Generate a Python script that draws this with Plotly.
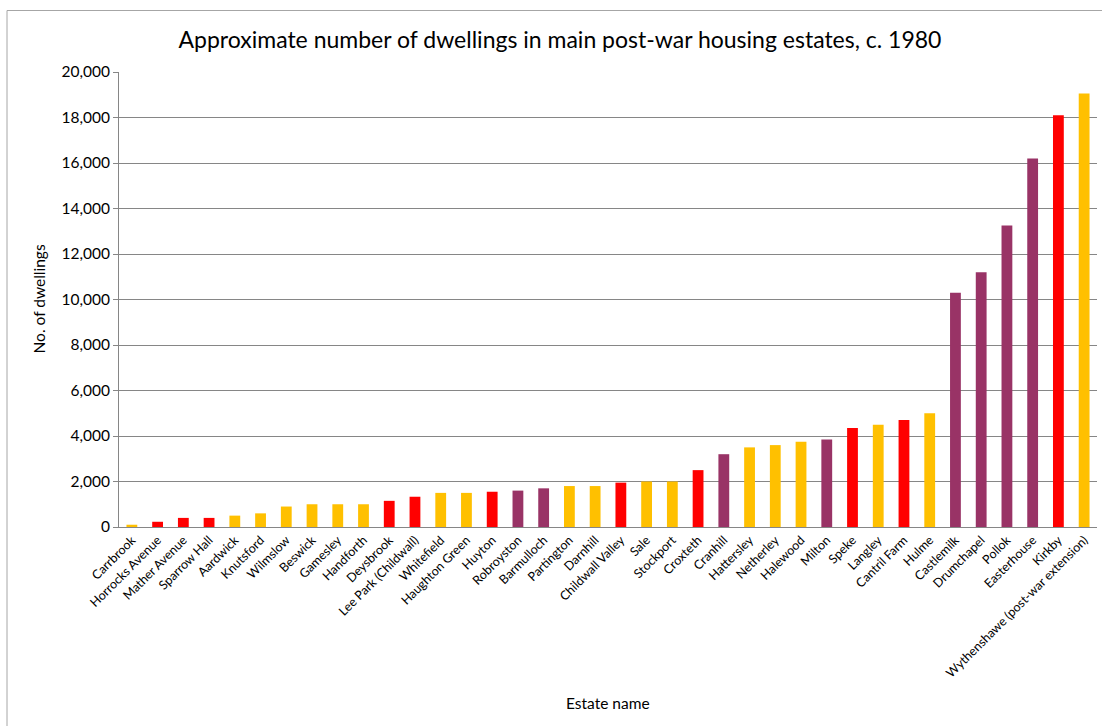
import plotly.graph_objects as go

estates = ["Carrbrook", "Horrocks Avenue", "Mather Avenue", "Sparrow Hall", "Aardwick", "Knutsford",
           "Wilmslow", "Beswick", "Gamesley", "Handforth", "Deysbrook", "Lee Park (Childwall)",
           "Whitefield", "Haughton Green", "Huyton", "Robroyston", "Barmulloch", "Partington",
           "Darnhill", "Childwall Valley", "Sale", "Stockport", "Croxteth", "Cranhill", "Hattersley",
           "Netherley", "Halewood", "Milton", "Speke", "Langley", "Cantril Farm", "Hulme",
           "Castlemilk", "Drumchapel", "Pollok", "Easterhouse", "Kirkby",
           "Wythenshawe (post-war extension)"]
dwellings = [100, 230, 400, 400, 500, 600, 900, 1000, 1000, 1000, 1150, 1330, 1500, 1500, 1550,
             1600, 1700, 1800, 1800, 1950, 2000, 2000, 2500, 3200, 3500, 3600, 3750, 3850, 4350,
             4500, 4700, 5000, 10300, 11200, 13250, 16200, 18100, 19050]
city = ["Manchester", "Liverpool", "Liverpool", "Liverpool", "Manchester", "Manchester",
        "Manchester", "Manchester", "Manchester", "Manchester", "Liverpool", "Liverpool",
        "Manchester", "Manchester", "Liverpool", "Glasgow", "Glasgow", "Manchester",
        "Manchester", "Liverpool", "Manchester", "Manchester", "Liverpool", "Glasgow", "Manchester",
        "Manchester", "Manchester", "Glasgow", "Liverpool", "Manchester", "Liverpool", "Manchester",
        "Glasgow", "Glasgow", "Glasgow", "Glasgow", "Liverpool", "Manchester"]
city_colors = {"Manchester": "#FFC000", "Liverpool": "#FF0000", "Glasgow": "#993366"}
y_ticks = list(range(0, 20001, 2000))

W, H = 1102, 726
L, R, T, B = 119, 5, 72, 199
pw, ph = W - L - R, H - T - B

fig = go.Figure(go.Bar(
    x=estates, y=dwellings,
    marker=dict(color=[city_colors[c] for c in city], line=dict(width=0)),
    width=0.42, showlegend=False,
))

font = "Lato, 'Open Sans', sans-serif"
fig.update_layout(
    width=W, height=H,
    margin=dict(l=L, r=R, t=T, b=B, autoexpand=False),
    paper_bgcolor="white", plot_bgcolor="white",
    font=dict(family=font, color="#000000"),
    title=dict(text="Approximate number of dwellings in main post-war housing estates, c. 1980",
               x=560 / W, xref="container", xanchor="center",
               y=1 - 40 / H, yref="container", yanchor="middle",
               font=dict(size=23, family=font, color="#000000")),
)
fig.update_xaxes(
    tickangle=-45, tickfont=dict(size=12.5),
    showline=True, linecolor="#868686", linewidth=1,
    ticks="", showgrid=False, automargin=False,
)
fig.update_yaxes(
    range=[0, 20000], tickvals=y_ticks, tickformat=",d",
    tickfont=dict(size=15.5),
    showline=True, linecolor="#868686", linewidth=1,
    ticks="outside", ticklen=5, tickcolor="#868686",
    showgrid=True, gridcolor="#868686", gridwidth=1,
    zeroline=False, automargin=False,
)
# chart-area border (Excel-style frame)
fig.add_shape(type="rect", xref="paper", yref="paper",
              x0=(7 - L) / pw, x1=(W + 5 - L) / pw,
              y0=1 - (H + 5 - T) / ph, y1=1 - (10.5 - T) / ph,
              line=dict(color="#A6A6A6", width=1), fillcolor="rgba(0,0,0,0)", layer="below")
fig.add_annotation(text="Estate name", xref="paper", yref="paper",
                   x=0.5, y=1 - (703 - T) / ph, showarrow=False,
                   font=dict(size=15.5, family=font), yanchor="middle", xanchor="center")
fig.add_annotation(text="No. of dwellings", xref="paper", yref="paper",
                   x=(38 - L) / pw, y=0.5, showarrow=False, textangle=-90,
                   font=dict(size=15.5, family=font), yanchor="middle", xanchor="center")
fig.write_html("out.html", config={"displayModeBar": False},
               post_script="document.body.style.margin='0';document.body.style.overflow='hidden';")
